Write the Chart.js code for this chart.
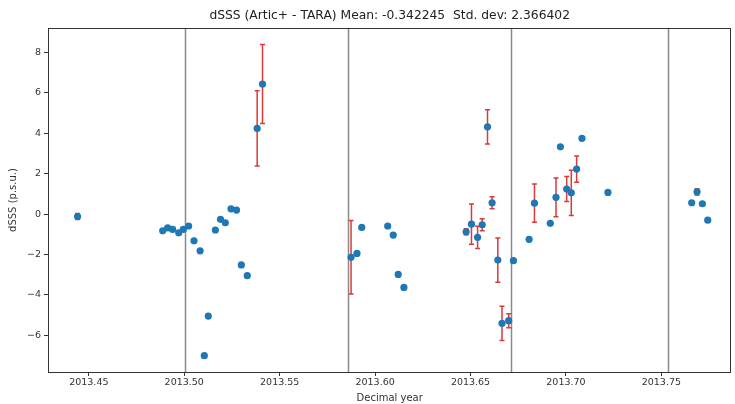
<!DOCTYPE html>
<html>
<head>
<meta charset="utf-8">
<script src="https://cdn.jsdelivr.net/npm/chart.js@4/dist/chart.umd.min.js"></script>
<style>
  html, body { margin: 0; padding: 0; background: #ffffff; }
  #wrap { width: 735px; height: 404px; position: relative; }
</style>
</head>
<body>
<div id="wrap"><canvas id="c" width="735" height="404"></canvas></div>
<script>
// ---- Data ----
const decimalYear = [
  2013.4441,
  2013.4887, 2013.4913, 2013.4939, 2013.4971, 2013.4995, 2013.5023, 2013.5051, 2013.5083,
  2013.5126, 2013.5105, 2013.5163, 2013.5190, 2013.5215, 2013.5245, 2013.5274, 2013.5299,
  2013.5330, 2013.5382, 2013.5410,
  2013.5874, 2013.5905, 2013.5930, 2013.6066, 2013.6095, 2013.6121, 2013.6151,
  2013.6477, 2013.6505, 2013.6537, 2013.6561, 2013.6589, 2013.6613, 2013.6643, 2013.6665,
  2013.6700, 2013.6725, 2013.6807, 2013.6835, 2013.6918, 2013.6948, 2013.6971, 2013.7004,
  2013.7028, 2013.7056, 2013.7084, 2013.7220,
  2013.7659, 2013.7687, 2013.7715, 2013.7743
];
const dSSS = [
  -0.12,
  -0.83, -0.68, -0.76, -0.93, -0.76, -0.59, -1.32, -1.82,
  -5.05, -7.01, -0.79, -0.26, -0.43, 0.26, 0.20, -2.52,
  -3.05, 4.24, 6.44,
  -2.14, -1.95, -0.66, -0.59, -1.04, -2.99, -3.63,
  -0.88, -0.50, -1.15, -0.53, 4.32, 0.56, -2.28, -5.41,
  -5.28, -2.31, -1.25, 0.54, -0.46, 0.83, 3.33, 1.24,
  1.05, 2.23, 3.75, 1.07,
  0.56, 1.10, 0.51, -0.30
];
const dSSSErr = [
  0.15,
  0, 0, 0, 0, 0, 0, 0, 0,
  0, 0, 0, 0, 0, 0, 0, 0,
  0, 1.86, 1.96,
  1.82, 0, 0, 0, 0, 0, 0,
  0.15, 1.0, 0.55, 0.3, 0.85, 0.3, 1.1, 0.85,
  0.35, 0, 0, 0.95, 0, 0.96, 0, 0.62,
  1.12, 0.65, 0, 0,
  0, 0.15, 0, 0
];
const vLines = [2013.5006, 2013.5857, 2013.6711, 2013.7533];
const xTickValues = [2013.45, 2013.50, 2013.55, 2013.60, 2013.65, 2013.70, 2013.75];
const yTickValues = [-6, -4, -2, 0, 2, 4, 6, 8];
const titleText = 'dSSS (Artic+ - TARA) Mean: -0.342245  Std. dev: 2.366402';

const points = decimalYear.map((x, i) => ({ x: x, y: dSSS[i] }));

const FONT = "'DejaVu Sans', sans-serif";

const extrasPlugin = {
  id: 'extras',
  beforeDatasetsDraw(chart) {
    const ctx = chart.ctx;
    const xs = chart.scales.x, ys = chart.scales.y;
    const area = chart.chartArea;
    ctx.save();
    // vertical reference lines
    ctx.strokeStyle = '#8a8a8a';
    ctx.lineWidth = 1.5;
    vLines.forEach(v => {
      const px = Math.round(xs.getPixelForValue(v)) + 0.5;
      ctx.beginPath();
      ctx.moveTo(px, area.top);
      ctx.lineTo(px, area.bottom);
      ctx.stroke();
    });
    // error bars
    ctx.strokeStyle = '#d93a3a';
    ctx.lineWidth = 1.5;
    decimalYear.forEach((x, i) => {
      const e = dSSSErr[i];
      if (!e) return;
      const px = xs.getPixelForValue(x);
      const t = ys.getPixelForValue(dSSS[i] + e);
      const b = ys.getPixelForValue(dSSS[i] - e);
      ctx.beginPath();
      ctx.moveTo(px, t); ctx.lineTo(px, b);
      ctx.moveTo(px - 2.5, t); ctx.lineTo(px + 2.5, t);
      ctx.moveTo(px - 2.5, b); ctx.lineTo(px + 2.5, b);
      ctx.stroke();
    });
    ctx.restore();
  },
  afterDraw(chart) {
    const ctx = chart.ctx;
    const a = chart.chartArea;
    ctx.save();
    ctx.strokeStyle = '#333333';
    ctx.lineWidth = 1;
    ctx.strokeRect(Math.round(a.left) + 0.5, Math.round(a.top) + 0.5,
                   Math.round(a.right - a.left) - 1, Math.round(a.bottom - a.top));
    ctx.restore();
  }
};

new Chart(document.getElementById('c'), {
  type: 'scatter',
  data: {
    datasets: [{
      data: points,
      backgroundColor: '#1f77b4',
      borderColor: '#1f77b4',
      pointRadius: 3.6,
      pointHoverRadius: 3.6,
      borderWidth: 0
    }]
  },
  options: {
    responsive: false,
    animation: false,
    events: [],
    layout: { padding: { left: 0, right: 2, top: 0, bottom: 0 } },
    plugins: {
      legend: { display: false },
      tooltip: { enabled: false },
      title: {
        display: true,
        fullSize: false,
        text: titleText,
        color: '#222222',
        font: { family: FONT, size: 12.3, weight: 'normal' },
        padding: { top: 8, bottom: 5.3 }
      }
    },
    scales: {
      x: {
        type: 'linear',
        min: 2013.4286,
        max: 2013.7867,
        afterBuildTicks(scale) { scale.ticks = xTickValues.map(v => ({ value: v })); },
        afterFit(scale) { scale.height = 32; },
        ticks: {
          color: '#333333',
          font: { family: FONT, size: 9.5 },
          padding: 1,
          maxRotation: 0,
          autoSkip: false,
          callback: v => Number(v).toFixed(2)
        },
        grid: { display: true, drawOnChartArea: false, drawTicks: true, tickLength: 4, color: '#333333' },
        border: { display: false },
        title: {
          display: true,
          text: 'Decimal year',
          color: '#333333',
          font: { family: FONT, size: 10 },
          padding: { top: 0, bottom: 0 }
        }
      },
      y: {
        type: 'linear',
        min: -7.82,
        max: 9.21,
        afterBuildTicks(scale) { scale.ticks = yTickValues.map(v => ({ value: v })); },
        afterFit(scale) { scale.width = 48; },
        ticks: {
          color: '#333333',
          font: { family: FONT, size: 9.5 },
          padding: 3,
          callback: v => (v < 0 ? '\u2212' + Math.abs(v) : String(v))
        },
        grid: { display: true, drawOnChartArea: false, drawTicks: true, tickLength: 4, color: '#333333' },
        border: { display: false },
        title: {
          display: true,
          text: 'dSSS (p.s.u.)',
          color: '#333333',
          font: { family: FONT, size: 10 },
          padding: { top: 7, bottom: 0 }
        }
      }
    }
  },
  plugins: [extrasPlugin]
});
</script>
</body>
</html>
